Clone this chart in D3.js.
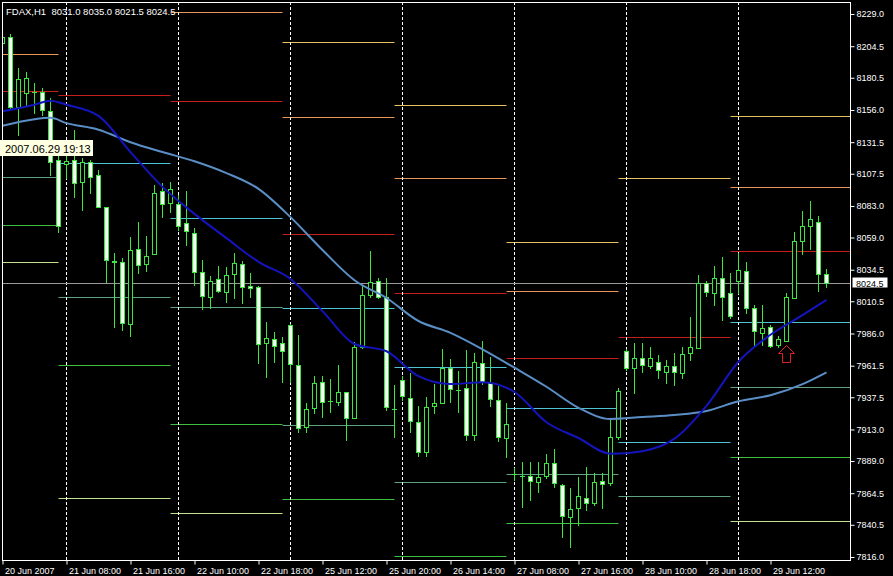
<!DOCTYPE html>
<html>
<head>
<meta charset="utf-8">
<script src="https://cdn.jsdelivr.net/npm/d3@7"></script>
<style>
body { margin: 0; background: #000; }
svg { display: block; font-family: "Liberation Sans", Arial, sans-serif; }
</style>
</head>
<body>
<script>
// FDAX H1 bars, 20 Jun - 29 Jun 2007
var opens = [8207, 8211.5, 8158.5, 8169, 8169.5, 8169.5, 8155, 8118, 8115, 8118, 8101, 8116.5, 8106.5, 8082, 8041, 8040.5,
  7993, 8050.5, 8039, 8046.5, 8094.5, 8085, 8084.5, 8070, 8062.5, 8033, 8014, 8027.5, 8017.5, 8031.5, 8039, 8022,
  8021.5, 7979, 7982, 7979, 7992.5, 7962, 7915, 7929.5, 7949, 7934.5, 7934, 7941.5, 7921.5, 7975.5, 8015.5, 8026,
  8013.5, 7928.5, 7950.5, 7937, 7918.5, 7896, 7931, 7933, 7960, 7943, 7944.5, 7908.5, 7963.5, 7948.5, 7935.5, 7906.5,
  7879, 7877.5, 7877.5, 7873, 7877.5, 7887.5, 7871, 7846.5, 7853.5, 7861, 7857, 7874, 7872.5, 7907.5, 7973, 7960,
  7967.5, 7961.5, 7964.5, 7957, 7961.5, 7956, 7971, 7975, 8024.5, 8017, 8028, 8017, 8026, 8033.5, 8005.5, 7986.5,
  7991, 7977, 7980.5, 8013, 8056.5, 8067.5, 8071, 8031];
var highs = [8217, 8214, 8188, 8185, 8176.5, 8172.5, 8165, 8122, 8124, 8141, 8119.5, 8118, 8110.5, 8082.5, 8047, 8043.5,
  8059.5, 8071, 8060, 8099, 8100.5, 8101, 8091.5, 8094.5, 8066, 8042, 8029.5, 8037.5, 8036.5, 8047, 8041, 8032,
  8022, 7994.5, 7987, 7983.5, 7993, 7985, 7933, 7953.5, 7953.5, 7951.5, 7962, 7941.5, 7979.5, 8022.5, 8048.5, 8028,
  8028, 7946.5, 7953.5, 7956, 7931, 7937.5, 7947.5, 7974, 7966.5, 7957.5, 7973.5, 7971, 7980.5, 7968, 7946, 7933,
  7884, 7888, 7888, 7888, 7894.5, 7898, 7871.5, 7868.5, 7877, 7884.5, 7880, 7880, 7920, 7944.5, 7974, 7979,
  7979, 7976, 7970, 7966, 7971, 7976, 7998.5, 8030.5, 8026, 8037.5, 8044, 8032, 8047, 8040, 8008, 8008,
  7992.5, 7984, 8017, 8063, 8079, 8086.5, 8075, 8035];
var lows = [8204.5, 8156.5, 8137, 8160, 8153.5, 8152, 8106.5, 8063, 8104.5, 8090, 8080, 8093, 8082, 8025, 7991, 7988.5,
  7984, 8032, 8033.5, 8046.5, 8074.5, 8078.5, 8064.5, 8053.5, 8023, 8004.5, 8005.5, 8017.5, 8010, 8013, 8009, 8014,
  7963.5, 7953, 7964.5, 7949, 7949, 7911, 7911, 7925.5, 7922.5, 7926.5, 7931.5, 7905, 7921.5, 7975, 8014, 8013,
  7927.5, 7907, 7935.5, 7911, 7893, 7893, 7925.5, 7933, 7934, 7926.5, 7905, 7905, 7947.5, 7931, 7904, 7892,
  7874.5, 7854, 7859.5, 7865.5, 7876, 7869, 7831, 7823.5, 7840.5, 7851.5, 7855.5, 7853.5, 7871, 7906, 7958, 7941,
  7957, 7960, 7952, 7948.5, 7947, 7952, 7966, 7975, 8014.5, 8008, 7996.5, 7998, 8017, 8001.5, 7977, 7977,
  7976, 7975.5, 7980, 8013, 8046.5, 8050.5, 8018, 8021.5];
var closes = [8211.5, 8158.5, 8179.5, 8180.5, 8170, 8156, 8116.5, 8067.5, 8117, 8100.5, 8116.5, 8105, 8082, 8042, 8040.5, 7994,
  8049.5, 8038, 8045, 8093, 8084.5, 8096, 8068, 8064, 8033, 8014.5, 8026, 8018.5, 8030.5, 8039.5, 8021.5, 8020.5,
  7978, 7982.5, 7976.5, 7972.5, 7963, 7914, 7928.5, 7948.5, 7934, 7934.5, 7941.5, 7921.5, 7975.5, 8015.5, 8025, 8014,
  7930, 7928.5, 7938.5, 7919.5, 7896, 7930, 7933, 7960, 7944, 7943, 7908.5, 7964.5, 7949, 7936, 7907.5, 7917,
  7879, 7877.5, 7874, 7877, 7887.5, 7872.5, 7847, 7852.5, 7862.5, 7857, 7873, 7871.5, 7907.5, 7942.5, 7960, 7967.5,
  7962, 7967, 7958.5, 7961.5, 7957, 7970.5, 7976, 8024.5, 8017.5, 8028, 8014, 7999.5, 8034.5, 8005.5, 7988, 7990,
  7976.5, 7981.5, 8014, 8056.5, 8067.5, 8073, 8031.5, 8024.5];

// moving averages, sampled at these bar numbers
var maIdx  = [0, 4, 6, 8, 12, 16, 20, 24, 28, 32, 36, 40, 44, 48, 52, 56, 60, 64, 68, 72, 76, 80, 84, 88, 92, 96, 100, 103];
var maFast = [8155, 8160, 8163, 8160, 8151.5, 8124, 8097.5, 8077, 8058.5, 8040.5, 8027.5, 8003, 7978, 7972.5,
  7953.5, 7947.5, 7949, 7941.5, 7918.5, 7906.5, 7894.5, 7896.5, 7906, 7931, 7964.5, 7985, 8000, 8011.5];
var maSlow = [8144, 8149, 8150, 8146, 8141, 8131.5, 8124, 8117, 8108, 8096, 8074.5, 8049.5, 8026.5, 8013,
  7995.5, 7986.5, 7974, 7960, 7945.5, 7929.5, 7921, 7922.5, 7924, 7927, 7934.5, 7939, 7947.5, 7956.5];

// daily pivot levels (first bar of each day)
var dayStart = [-6, 8, 22, 36, 50, 64, 78, 92];
var r3 = [8240, 8321, 8319.5, 8207.5, 8160, 8055.5, 8104.5, 8151.5];
var r2 = [8198.5, 8269.5, 8230.5, 8150.5, 8104.5, 8018, 8024.5, 8097.5];
var r1 = [8170.5, 8167.5, 8163, 8061.5, 8016.5, 7967.5, 7983.5, 8048.5];
var pp = [8133.5, 8115.5, 8074, 8005.5, 7960.5, 7929.5, 7903.5, 7994.5];
var s1 = [8105, 8014, 8006, 7916.5, 7873, 7879.5, 7862.5, 7945.5];
var s2 = [8068.5, 7962, 7917, 7860, 7817, 7842, 7782.5, 7892];
var s3 = [8040.5, 7861, 7849.5, 7771, 7729.5, 7791.5, 7741.5, 7843.5];

var priceTicks = [8229.0, 8204.5, 8180.5, 8156.0, 8131.5, 8107.5, 8083.0, 8059.0, 8034.5,
  8010.5, 7986.0, 7961.5, 7937.5, 7913.0, 7889.0, 7864.5, 7840.5, 7816.0];
var timeIdx = [0, 8, 16, 24, 32, 40, 48, 56, 64, 72, 80, 88, 96];
var timeLabels = ["20 Jun 2007", "21 Jun 08:00", "21 Jun 16:00", "22 Jun 10:00", "22 Jun 18:00", "25 Jun 12:00",
  "25 Jun 20:00", "26 Jun 14:00", "27 Jun 08:00", "27 Jun 16:00", "28 Jun 10:00", "28 Jun 18:00", "29 Jun 12:00"];

var arrowBar = 98, arrowPrice = 7977;
var cursorTime = "2007.06.29 19:13";

var plot = {left: 2, top: 2, right: 850, bottom: 560};
var green = "#3ce63c";

var x = d3.scaleLinear().domain([0, 103]).range([2.5, 826.5]);
var y = d3.scaleLinear().domain([7816, 8229]).range([557, 14]);

var svg = d3.select("body").append("svg")
    .attr("width", 893)
    .attr("height", 576);

svg.append("rect").attr("width", 893).attr("height", 576).attr("fill", "#000");

svg.append("clipPath").attr("id", "clip")
  .append("rect")
    .attr("x", plot.left).attr("y", plot.top)
    .attr("width", plot.right - plot.left).attr("height", plot.bottom - plot.top);

var g = svg.append("g").attr("clip-path", "url(#clip)");

// pivot lines
var levels = [
  {vals: r3, color: "#e6c262"},
  {vals: r2, color: "#e8985a"},
  {vals: r1, color: "#c41e1e"},
  {vals: pp, color: "#4cc4d4"},
  {vals: s1, color: "#5ea47e"},
  {vals: s2, color: "#40c040"},
  {vals: s3, color: "#c2e492"}
];
levels.forEach(function(lv){
  dayStart.forEach(function(s, i){
    var yy = Math.round(y(lv.vals[i])) + 0.5;
    g.append("line")
      .attr("x1", x(s - 1))
      .attr("x2", i == dayStart.length - 1 ? plot.right : x(s + 13))
      .attr("y1", yy).attr("y2", yy)
      .attr("stroke", lv.color)
      .attr("stroke-width", 1);
  });
});

// day separators
dayStart.slice(1).forEach(function(s){
  g.append("line")
    .attr("x1", x(s)).attr("x2", x(s))
    .attr("y1", plot.top).attr("y2", plot.bottom)
    .attr("stroke", "#fff")
    .attr("stroke-dasharray", "3,2");
});

// last price line
var lastClose = closes[closes.length - 1];
g.append("line")
  .attr("x1", plot.left).attr("x2", plot.right)
  .attr("y1", Math.round(y(lastClose)) + 0.5).attr("y2", Math.round(y(lastClose)) + 0.5)
  .attr("stroke", "#9a9a9a");

// candles
var bars = g.append("g").attr("class", "bars");
opens.forEach(function(o, k){
  var c = closes[k], cx = x(k);
  var yH = Math.round(y(highs[k])), yL = Math.round(y(lows[k]));
  var yTop = Math.round(y(Math.max(o, c))), yBot = Math.round(y(Math.min(o, c)));
  bars.append("line")
    .attr("x1", cx).attr("x2", cx)
    .attr("y1", yH).attr("y2", yL + 1)
    .attr("stroke", green);
  if (yBot - yTop < 1) {
    bars.append("line")
      .attr("x1", cx - 2.5).attr("x2", cx + 2.5)
      .attr("y1", yTop + 0.5).attr("y2", yTop + 0.5)
      .attr("stroke", green);
  } else {
    bars.append("rect")
      .attr("x", cx - 2)
      .attr("y", yTop + 0.5)
      .attr("width", 4)
      .attr("height", yBot - yTop)
      .attr("fill", c > o ? "#000" : "#f4fff4")
      .attr("stroke", green);
  }
});

// moving averages
var maLine = d3.line()
    .x(function(d){ return x(d[0]); })
    .y(function(d){ return y(d[1]); })
    .curve(d3.curveMonotoneX);

g.append("path")
  .datum(maIdx.map(function(k, i){ return [k, maSlow[i]]; }))
  .attr("d", maLine)
  .attr("fill", "none")
  .attr("stroke", "#5a8ec4")
  .attr("stroke-width", 2);

g.append("path")
  .datum(maIdx.map(function(k, i){ return [k, maFast[i]]; }))
  .attr("d", maLine)
  .attr("fill", "none")
  .attr("stroke", "#1414bc")
  .attr("stroke-width", 2);

// up arrow
var ax = x(arrowBar), ay = Math.round(y(arrowPrice)) + 0.5;
g.append("path")
  .attr("d", "M" + ax + "," + ay + " l8,8 l-4,0 l0,9 l-8,0 l0,-9 l-4,0 z")
  .attr("fill", "none")
  .attr("stroke", "#e02020");

// frame
svg.append("rect")
  .attr("x", plot.left + 0.5).attr("y", plot.top + 0.5)
  .attr("width", plot.right - plot.left).attr("height", plot.bottom - plot.top)
  .attr("fill", "none")
  .attr("stroke", "#fff");

// price axis
var yAxis = d3.axisRight(y)
    .tickValues(priceTicks)
    .tickFormat(d3.format(".1f"))
    .tickSize(4)
    .tickPadding(2);

var ya = svg.append("g")
    .attr("transform", "translate(" + (plot.right + 0.5) + ",0)")
    .call(yAxis);
ya.select(".domain").remove();
ya.selectAll("line").attr("stroke", "#fff");
ya.selectAll("text").attr("fill", "#fff").style("font-size", "9px");

// time axis
var xAxis = d3.axisBottom(x)
    .tickValues(timeIdx)
    .tickFormat(function(d, i){ return timeLabels[i]; })
    .tickSize(4)
    .tickPadding(3);

var xa = svg.append("g")
    .attr("transform", "translate(0," + (plot.bottom + 0.5) + ")")
    .call(xAxis);
xa.select(".domain").remove();
xa.selectAll("line").attr("stroke", "#fff");
xa.selectAll("text")
    .attr("fill", "#fff")
    .attr("text-anchor", "start")
    .attr("x", 2)
    .style("font-size", "9px");

// last price marker
var ly = Math.round(y(lastClose));
svg.append("rect")
  .attr("x", 852.5).attr("y", ly - 5.5)
  .attr("width", 35).attr("height", 10)
  .attr("fill", "#fff");
svg.append("text")
  .attr("x", 856).attr("y", ly + 3.5)
  .attr("fill", "#000")
  .style("font-size", "9px")
  .text(d3.format(".1f")(lastClose));

// symbol caption
var f = d3.format(".1f"), n = opens.length - 1;
svg.append("text")
  .attr("x", 6).attr("y", 14.5)
  .attr("fill", "#fff")
  .style("font-size", "9.5px")
  .style("white-space", "pre")
  .text("FDAX,H1  " + f(opens[n]) + " " + f(highs[n]) + " " + f(lows[n]) + " " + f(closes[n]));

// crosshair date tag
svg.append("rect")
  .attr("x", 0).attr("y", 140)
  .attr("width", 93).attr("height", 16)
  .attr("fill", "#ffffe1");
svg.append("text")
  .attr("x", 5).attr("y", 152.5)
  .attr("fill", "#000")
  .style("font-size", "11px")
  .text(cursorTime);
</script>
</body>
</html>
